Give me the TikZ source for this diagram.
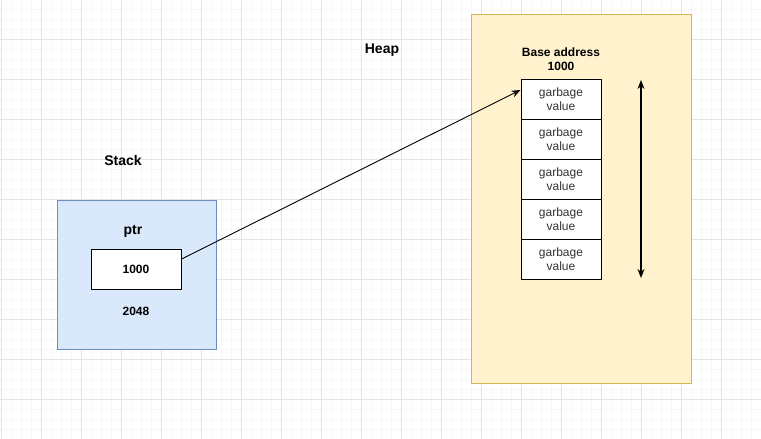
\documentclass[tikz,border=0pt]{standalone}
\usepackage{fontspec}
\setmainfont{Liberation Sans}
\usetikzlibrary{arrows.meta,positioning,calc}
\definecolor{stackfill}{HTML}{DAE8FC}
\definecolor{stackline}{HTML}{6C8EBF}
\definecolor{heapfill}{HTML}{FFF2CC}
\definecolor{heapline}{HTML}{D6B656}
\definecolor{gridminor}{HTML}{F7F7F7}
\definecolor{gridmajor}{HTML}{E4E4E4}
\definecolor{celltext}{HTML}{333333}

\begin{document}
\begin{tikzpicture}[x=1pt, y=-1pt, node distance = 40pt, on grid, line width=1pt,
	title/.style = {font=\fontsize{14}{16}\selectfont\bfseries, inner sep=0pt},
	label/.style = {font=\fontsize{12}{14}\selectfont\bfseries, inner sep=0pt, align=center},
	region/.style = {draw, inner sep=0pt, anchor=north west},
	valbox/.style = {draw=black, fill=white, minimum width=90pt, minimum height=40pt, inner sep=0pt, font=\fontsize{12}{14}\selectfont\bfseries},
	cell/.style = {draw=black, fill=white, minimum width=80pt, minimum height=40pt, inner sep=0pt, align=center, text=celltext, font=\fontsize{12}{14}\selectfont},
	pointer/.style = {-{Stealth[length=9pt,width=7pt]}, line width=0.9pt},
	span/.style = {{Stealth[length=9pt,width=7pt]}-{Stealth[length=9pt,width=7pt]}, line width=1.1pt}]
	\useasboundingbox (0,0) rectangle (761,439);
	\fill[white] (0,0) rectangle (761,439);
	\foreach \i in {1,11,...,761} \draw[gridminor] (\i,0) -- (\i,439);
	\foreach \j in {9,19,...,439} \draw[gridminor] (0,\j) -- (761,\j);
	\foreach \i in {1,41,...,761} \draw[gridmajor] (\i,0) -- (\i,439);
	\foreach \j in {39,79,...,439} \draw[gridmajor] (0,\j) -- (761,\j);

	\node[region, draw=stackline, fill=stackfill, minimum width=159pt, minimum height=149pt] (stack) at (57,200) {};
	\node[region, draw=heapline, fill=heapfill, minimum width=220pt, minimum height=369pt] (heap) at (471,14) {};

	\node[title] (stacklbl) at (123,160) {Stack};
	\node[title] (heaplbl) at (382,50) {Heap};
	\node[title] (ptrlbl) at (133,231) {ptr};
	\node[valbox] (val) at (136,269) {1000};
	\node[label] (addr) at (136,311) {2048};

	\node[label] (base) at (561,59) {Base address\\1000};
	\node[cell] (cell1) at (561,99) {garbage\\value};
	\node[cell, below=of cell1] (cell2) {garbage\\value};
	\node[cell, below=of cell2] (cell3) {garbage\\value};
	\node[cell, below=of cell3] (cell4) {garbage\\value};
	\node[cell, below=of cell4] (cell5) {garbage\\value};

	\coordinate (spantop) at (641,80);
	\coordinate (spanbot) at (641,278);

	\draw[pointer] ([yshift=10pt]val.east) -- ([yshift=9pt]cell1.west);
	\draw[span] (spantop) -- (spanbot);
\end{tikzpicture}
\end{document}
